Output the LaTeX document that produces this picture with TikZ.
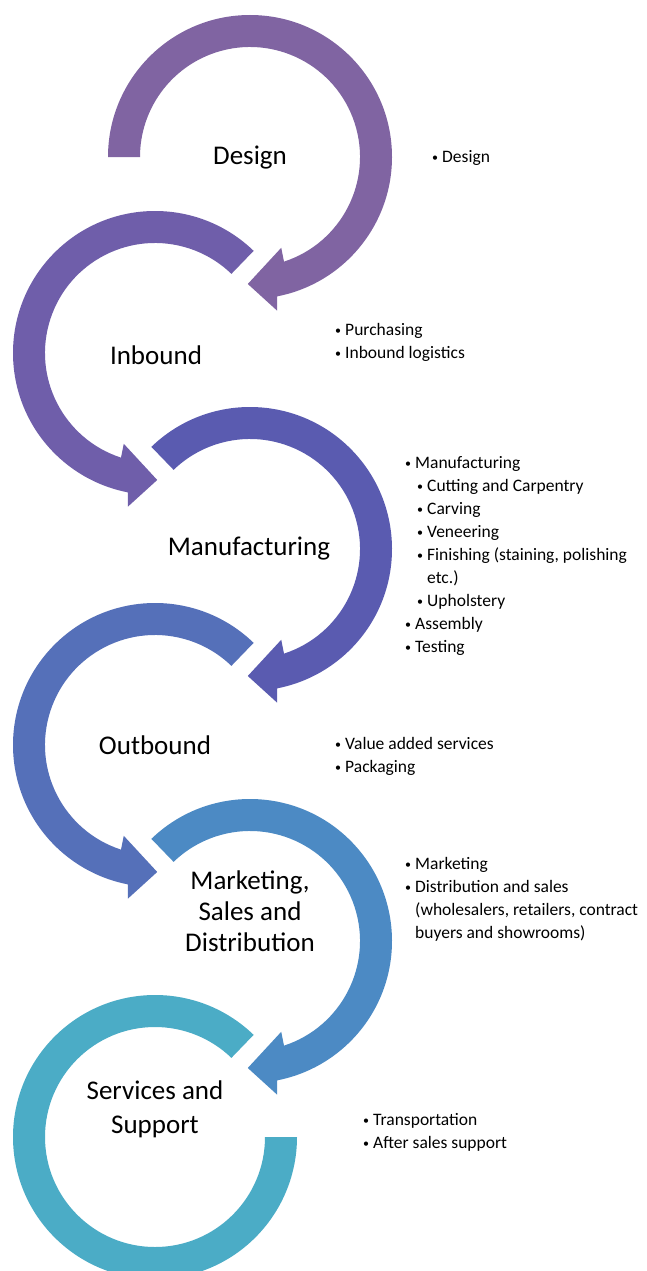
\documentclass[tikz,border=0pt]{standalone}
\usepackage{fontspec}
\setmainfont{Carlito}

% ring arrow around (cx,cy): #3 = xscale (1 clockwise, -1 counter-clockwise),
% #4 = start angle of the tail, #5 = fill colour
\newcommand{\ringarrow}[5]{%
  \begin{scope}[shift={(#1,#2)}, xscale=#3]
    \fill[#5] (#4:142pt) arc[start angle=#4, end angle=-79, radius=142pt]
      -- (-80:156pt) -- (-91:127pt) -- (-71:96pt) -- (-72:110pt)
      arc[start angle=-72, end angle=#4, radius=110pt] -- cycle;
  \end{scope}}
% open ring without head, ending flat on the right
\newcommand{\ringtail}[4]{%
  \begin{scope}[shift={(#1,#2)}, xscale=#3]
    \fill[#4] (134:142pt) arc[start angle=134, end angle=-180, radius=142pt]
      -- (-180:110pt) arc[start angle=-180, end angle=134, radius=110pt] -- cycle;
  \end{scope}}
\newcommand{\bul}{\makebox[10pt][l]{\raisebox{1pt}{\fontsize{12}{12}\selectfont\textbullet}}}

\definecolor{cDesign}{HTML}{8064A2}
\definecolor{cInbound}{HTML}{6F5EAA}
\definecolor{cManuf}{HTML}{5A5BB0}
\definecolor{cOutbound}{HTML}{5570B9}
\definecolor{cMarket}{HTML}{4C8AC4}
\definecolor{cService}{HTML}{4BACC6}

\begin{document}
\begin{tikzpicture}[x=1pt,y=1pt,
  stage/.style={font=\fontsize{27}{31}\selectfont, align=center, inner sep=0pt, text=black},
  items/.style={font=\fontsize{17.5}{23}\selectfont, align=left, inner sep=0pt, anchor=north west, text=black}]
\useasboundingbox (0,0) rectangle (647,-1271);
\fill[white] (0,0) rectangle (647,-1271);
\begin{scope}
\clip (0,0) rectangle (647,-1271);
% the six stages, alternating direction
\ringtail{155}{-1137}{-1}{cService}
\ringarrow{250}{-941}{1}{134}{cMarket}
\ringarrow{155}{-745}{-1}{134}{cOutbound}
\ringarrow{250}{-549}{1}{134}{cManuf}
\ringarrow{155}{-353}{-1}{134}{cInbound}
\ringarrow{250}{-157}{1}{180}{cDesign}
\end{scope}

% stage titles
\node[stage] (design) at (250,-158) {Design};
\node[stage] (inbound) at (156,-355) {Inbound};
\node[stage] (manuf) at (249,-549) {Manufacturing};
\node[stage] (outbound) at (155,-745) {Outbound};
\node[stage] (market) at (250,-911) {Marketing,\\Sales and\\Distribution};
\node[stage] (service) at (155,-1109) {Services and\\[3pt]Support};

% activities of each stage
\node[items] (designlist) at (432,-150) {\bul Design};
\node[items] (inboundlist) at (335,-323) {\bul Purchasing\\\bul Inbound logistics};
\node[items] (manuflist) at (405,-456) {\bul Manufacturing\\
  \hspace*{12pt}\bul Cutting and Carpentry\\
  \hspace*{12pt}\bul Carving\\
  \hspace*{12pt}\bul Veneering\\
  \hspace*{12pt}\bul Finishing (staining, polishing\\
  \hspace*{22pt}etc.)\\
  \hspace*{12pt}\bul Upholstery\\
  \bul Assembly\\
  \bul Testing};
\node[items] (outboundlist) at (335,-737) {\bul Value added services\\\bul Packaging};
\node[items] (marketlist) at (405,-857) {\bul Marketing\\
  \bul Distribution and sales\\
  \hspace*{10pt}(wholesalers, retailers, contract\\
  \hspace*{10pt}buyers and showrooms)};
\node[items] (servicelist) at (363,-1113) {\bul Transportation\\\bul After sales support};
\end{tikzpicture}
\end{document}
